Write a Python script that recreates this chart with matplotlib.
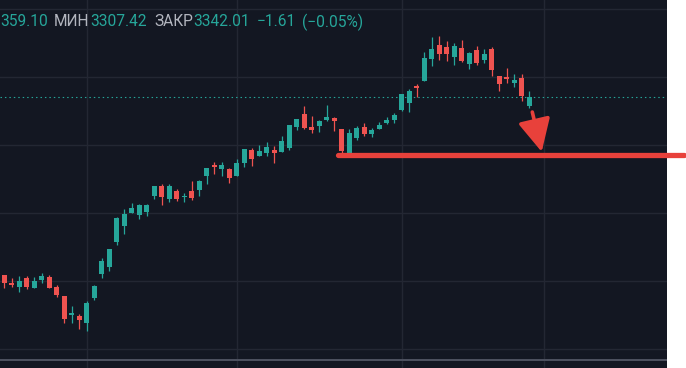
import matplotlib.pyplot as plt

# daily candles
opens = [2817.7, 2795.0, 2782.4, 2808.8, 2779.4, 2803.0, 2811.8, 2782.4, 2755.9, 2700.0,
         2697.1, 2676.5, 2750.0, 2820.6, 2841.2, 2914.7, 2961.8, 3000.0, 2994.1, 3003.0,
         3050.0, 3079.4, 3041.2, 3064.7, 3047.1, 3064.7, 3067.7, 3108.9, 3141.2, 3129.4,
         3129.4, 3108.9, 3147.1, 3185.3, 3167.7, 3176.5, 3185.3, 3179.4, 3191.2, 3253.0,
         3291.2, 3253.0, 3255.9, 3273.6, 3279.4, 3247.1, 3176.5, 3220.6, 3253.0, 3232.4,
         3247.1, 3264.7, 3273.6, 3303.0, 3323.6, 3373.6, 3388.3, 3453.0, 3494.1, 3488.3,
         3458.9, 3485.3, 3438.3, 3479.4, 3450.0, 3482.4, 3403.0, 3400.0, 3382.4, 3397.1,
         3314.7]
highs = [2817.7, 2809.7, 2814.7, 2814.7, 2811.8, 2823.5, 2817.7, 2788.3, 2755.9, 2726.5,
         2703.0, 2741.2, 2788.3, 2867.7, 2894.1, 2988.3, 3011.8, 3029.4, 3026.5, 3026.5,
         3079.4, 3085.3, 3085.3, 3070.6, 3058.9, 3094.1, 3097.1, 3132.4, 3150.0, 3150.0,
         3132.4, 3158.9, 3188.3, 3191.2, 3200.0, 3208.9, 3197.1, 3226.5, 3258.9, 3276.5,
         3314.7, 3285.3, 3273.6, 3317.7, 3282.4, 3247.1, 3247.1, 3255.9, 3264.7, 3250.0,
         3267.7, 3282.4, 3294.1, 3350.0, 3364.7, 3379.4, 3473.6, 3517.7, 3520.6, 3505.9,
         3500.0, 3508.9, 3473.6, 3491.2, 3482.4, 3488.3, 3403.0, 3426.5, 3408.9, 3408.9,
         3359.10]
lows = [2779.4, 2783.3, 2768.5, 2776.5, 2779.4, 2794.1, 2779.4, 2753.0, 2676.5, 2676.5,
        2658.9, 2653.0, 2744.1, 2808.8, 2829.4, 2905.9, 2938.3, 3000.0, 2982.4, 2991.2,
        3041.2, 3023.6, 3032.4, 3035.3, 3032.4, 3038.3, 3050.0, 3085.3, 3114.7, 3108.9,
        3088.3, 3108.9, 3135.3, 3138.3, 3167.7, 3167.7, 3147.1, 3179.4, 3185.3, 3244.1,
        3247.1, 3235.3, 3238.3, 3270.6, 3241.2, 3170.6, 3176.5, 3214.7, 3226.5, 3223.6,
        3247.1, 3261.8, 3264.7, 3300.0, 3297.1, 3341.2, 3388.3, 3432.4, 3450.0, 3447.1,
        3435.3, 3444.1, 3423.6, 3435.3, 3441.2, 3403.0, 3358.9, 3382.4, 3370.6, 3329.4,
        3307.42]
closes = [2794.1, 2789.1, 2800.0, 2782.4, 2800.0, 2814.7, 2779.4, 2758.9, 2688.3, 2705.9,
          2685.3, 2735.3, 2785.3, 2858.9, 2894.1, 2985.3, 2997.1, 3014.7, 3023.6, 3023.6,
          3079.4, 3047.1, 3079.4, 3041.2, 3050.0, 3044.1, 3094.1, 3132.4, 3135.3, 3141.2,
          3103.0, 3147.1, 3188.3, 3158.9, 3182.4, 3194.1, 3176.5, 3211.8, 3258.9, 3276.5,
          3250.0, 3244.1, 3270.6, 3282.4, 3270.6, 3182.4, 3235.3, 3250.0, 3232.4, 3244.1,
          3258.9, 3273.6, 3288.3, 3350.0, 3358.9, 3367.7, 3455.9, 3482.4, 3467.7, 3467.7,
          3491.2, 3447.1, 3470.6, 3441.2, 3467.7, 3420.6, 3379.4, 3394.1, 3391.2, 3343.62,
          3342.01]

price_grid = [2600, 2800, 3000, 3200, 3400, 3600]
time_grid = [11, 31, 53, 72]
last_price = 3342.01
support_level = 3171
support_start = 44.5
arrow_from = (70.4, 3297)
arrow_to = (71.65, 3180)

header = [("359.10", "v"), ("МИН", "l"), ("3307.42", "v"), ("ЗАКР", "l"),
          ("3342.01", "v"), ("−1.61", "v"), ("(−0.05%)", "v")]
header_x = [0, 54, 90, 154, 193, 257, 302]

bg = "#131722"
up = "#26a69a"
down = "#ef5350"
mark = "#e8413b"

W, H = 686, 368
fig = plt.figure(figsize=(W / 100, H / 100), dpi=100, facecolor="white")
ax = fig.add_axes([0, 0, 667 / W, 1])
ax.set_facecolor(bg)
ax.set_xlim(-0.573, 88.36)
ax.set_ylim(2544.1, 3626.5)

for y in price_grid:
    ax.axhline(y, color="#232733", lw=1.0, zorder=0)
for x in time_grid:
    ax.axvline(x, color="#232733", lw=1.0, zorder=0)

idx = list(range(len(opens)))
colors = [up if c >= o else down for o, c in zip(opens, closes)]
bottoms = [min(o, c) for o, c in zip(opens, closes)]
heights = [max(abs(c - o), 2.5) for o, c in zip(opens, closes)]
ax.vlines(idx, lows, highs, colors=colors, lw=0.9, zorder=2)
ax.bar(idx, heights, bottom=bottoms, width=0.67, color=colors, linewidth=0, zorder=3)

ax.axhline(last_price, color=up, lw=0.8, linestyle=(0, (1.3, 2.7)), zorder=1)
ax.axhline(2567, color="#4e5260", lw=1.4, zorder=1)

ax.plot([support_start, 90.6], [support_level, support_level], color=mark, lw=3.8,
        solid_capstyle="round", clip_on=False, zorder=5)
ax.annotate("", xy=arrow_to, xytext=arrow_from,
            arrowprops=dict(arrowstyle="-|>,head_length=2.0,head_width=1.0",
                            color=mark, lw=2.6, shrinkA=0, shrinkB=0),
            zorder=5)

for (txt, kind), x in zip(header, header_x):
    fig.text(x / W, 1 - 22 / H, txt, color=up if kind == "v" else "#b2b5be",
             fontsize=11.2, family="Roboto", ha="left", va="center")

ax.set_xticks([])
ax.set_yticks([])
for s in ax.spines.values():
    s.set_visible(False)

fig.savefig("out.png", dpi=100, facecolor="white")
